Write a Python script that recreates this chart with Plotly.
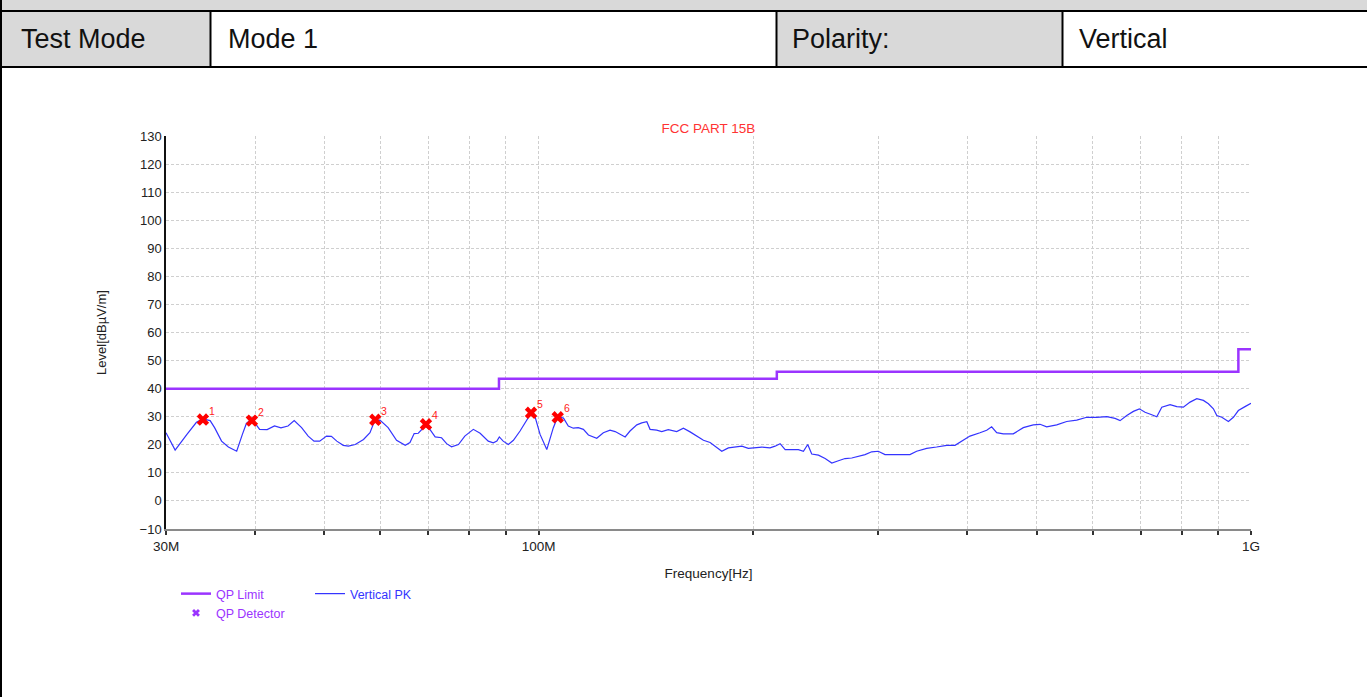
import math
import plotly.graph_objects as go

# ---------------- data ----------------
# Peak trace (Vertical PK), frequency in MHz, level in dBuV/m
pk_freq = [30.0, 30.9, 32.1, 33.1, 33.8, 34.6, 35.1, 35.9, 36.7, 37.7, 38.4, 38.9, 39.6,
           40.6, 41.6, 42.6, 43.5, 44.5, 45.4, 46.5, 47.5, 48.4, 49.3, 50.4, 51.2, 52.1,
           53.2, 54.1, 55.3, 56.8, 58.0, 58.9, 59.9, 61.5, 63.2, 65.0, 66.0, 66.9, 67.8,
           69.3, 70.4, 71.6, 73.1, 74.3, 75.5, 77.2, 78.8, 81.0, 82.8, 85.0, 86.4, 87.4,
           88.1, 89.2, 90.7, 92.2, 94.2, 95.7, 97.8, 98.7, 100.5, 102.7, 104.9, 106.4,
           108.4, 110.1, 111.9, 113.7, 115.6, 117.5, 120.7, 123.3, 126.0, 128.1, 130.1,
           132.3, 134.4, 137.4, 139.6, 141.9, 143.4, 146.5, 148.9, 152.1, 156.3, 159.7,
           163.2, 166.8, 170.4, 174.1, 177.9, 180.8, 184.7, 189.8, 192.9, 197.0, 201.3,
           205.8, 211.3, 214.8, 218.3, 221.9, 226.7, 231.6, 235.4, 238.7, 241.8, 247.1,
           252.5, 258.0, 263.6, 269.3, 275.2, 281.2, 287.3, 293.5, 299.8, 306.4, 313.1,
           321.6, 332.1, 339.4, 350.6, 362.0, 374.0, 384.2, 392.6, 403.2, 416.5, 425.6,
           432.5, 439.6, 449.1, 463.8, 479.1, 494.8, 505.7, 516.7, 533.7, 551.2, 569.4,
           588.1, 607.4, 627.4, 644.5, 655.0, 669.3, 683.8, 697.1, 710.1, 725.6, 737.5,
           749.5, 769.9, 786.8, 803.7, 821.3, 839.3, 857.4, 871.4, 885.6, 895.4, 910.0,
           929.6, 944.7, 959.9, 980.8, 1000.0]
pk_level = [24.3, 18.1, 23.7, 28.0, 29.2, 28.6, 26.1, 21.3, 19.2, 17.7, 23.7, 27.6, 29.2,
            25.5, 25.4, 26.7, 26.0, 26.7, 28.6, 26.1, 23.1, 21.3, 21.3, 23.1, 23.0, 21.3,
            19.8, 19.5, 20.1, 21.9, 24.3, 28.6, 28.8, 26.1, 21.6, 19.8, 20.8, 24.0, 24.1,
            26.7, 25.5, 22.8, 22.5, 20.4, 19.3, 20.1, 23.1, 25.5, 24.1, 21.3, 20.7, 21.3,
            22.8, 21.3, 20.1, 21.6, 24.9, 27.6, 31.6, 30.7, 23.7, 18.3, 26.1, 30.0,
            29.5, 26.7, 25.9, 26.1, 25.5, 23.5, 22.3, 24.3, 25.2, 24.7, 23.7,
            22.8, 24.9, 27.1, 27.8, 28.2, 25.5, 25.2, 24.7, 25.4, 24.7, 25.9,
            24.6, 23.1, 21.6, 20.8, 18.9, 17.7, 18.9, 19.2, 19.5, 18.7, 18.9,
            19.2, 18.9, 19.5, 20.4, 18.3, 18.3, 18.3, 17.7, 20.1, 16.7, 16.3,
            15.1, 13.5, 14.3, 15.1, 15.3, 15.9, 16.5, 17.5, 17.7, 16.5, 16.5,
            16.3, 16.5, 17.7, 18.7, 19.2, 19.8, 19.8, 21.3, 23.1, 24.3, 25.2,
            26.4, 24.3, 23.9, 23.9, 26.1, 27.1, 27.3, 26.4, 27.1, 28.3, 28.8,
            29.8, 29.8, 30.0, 29.4, 28.6, 30.4, 31.9, 32.8, 31.6, 30.7, 30.0,
            33.4, 34.3, 33.6, 33.4, 35.2, 36.4, 35.8, 34.6, 32.8, 30.4, 29.8,
            28.3, 29.8, 32.2, 33.6, 34.8]

# FCC Part 15B QP limit (step function)
limit_freq = [30.0, 88.0, 216.0, 960.0, 1000.0]
limit_level = [40.0, 43.5, 46.0, 54.0, 54.0]

# QP detector readings
qp_freq = [33.8, 39.6, 59.0, 69.5, 97.6, 106.4]
qp_level = [29.0, 28.6, 28.9, 27.3, 31.4, 29.8]
qp_labels = ["1", "2", "3", "4", "5", "6"]

# axis ticks
x_tickvals = [30, 40, 50, 60, 70, 80, 90, 100, 200, 300, 400, 500, 600, 700, 800, 900, 1000]
x_ticktext = ["30M", "", "", "", "", "", "", "100M", "", "", "", "", "", "", "", "", "1G"]
y_tickvals = list(range(-10, 140, 10))

# header table
header_labels = ["Test Mode", "Mode 1", "Polarity:", "Vertical"]

# ---------------- layout geometry ----------------
W, H = 1367, 697
L, R, T, B = 166, 1251, 136, 529


def px2x(px):
    return (px - L) / (R - L)


def px2y(py):
    return (B - py) / (B - T)


FONT = "Liberation Sans, Arial, sans-serif"
PURPLE = "#9b34ff"
BLUE = "#3434ff"
RED = "#ff1a1a"

fig = go.Figure()

fig.add_trace(go.Scatter(
    x=limit_freq, y=limit_level, mode="lines", line_shape="hv",
    line=dict(color=PURPLE, width=2.5), name="QP Limit", legend="legend"))

fig.add_trace(go.Scatter(
    x=pk_freq, y=pk_level, mode="lines",
    line=dict(color=BLUE, width=1.2), name="Vertical PK", legend="legend2"))

fig.add_trace(go.Scatter(
    x=qp_freq, y=qp_level, mode="markers",
    marker=dict(symbol="x", size=11, color="#ff0000", line=dict(width=0)),
    name="QP Detector", showlegend=False))

# legend-only entry for the QP detector (purple symbol in legend)
fig.add_trace(go.Scatter(
    x=[None], y=[None], mode="markers",
    marker=dict(symbol="x", size=7, color=PURPLE, line=dict(width=0)),
    name="QP Detector", legend="legend"))

shapes = []
annotations = []
# marker number labels
for f, lv, lab in zip(qp_freq, qp_level, qp_labels):
    annotations.append(dict(text=lab, x=math.log10(f), y=lv, xref="x", yref="y",
                            xanchor="left", yanchor="bottom", xshift=4, yshift=1,
                            showarrow=False, font=dict(family=FONT, size=10.5, color=RED)))

# header grey strip and cells
shapes.append(dict(type="rect", xref="paper", yref="paper",
                   x0=px2x(0), x1=px2x(W), y0=px2y(11), y1=px2y(0),
                   fillcolor="#d9d9d9", line=dict(width=0), layer="below"))
for x0, x1 in [(0, 210), (777, 1062)]:
    shapes.append(dict(type="rect", xref="paper", yref="paper",
                       x0=px2x(x0), x1=px2x(x1), y0=px2y(67), y1=px2y(11),
                       fillcolor="#d9d9d9", line=dict(width=0), layer="below"))
# header lines
for yy in [11, 67]:
    shapes.append(dict(type="line", xref="paper", yref="paper",
                       x0=px2x(0), x1=px2x(W), y0=px2y(yy), y1=px2y(yy),
                       line=dict(color="#000000", width=2)))
for xx in [210.5, 776.5, 1062.5]:
    shapes.append(dict(type="line", xref="paper", yref="paper",
                       x0=px2x(xx), x1=px2x(xx), y0=px2y(11), y1=px2y(67),
                       line=dict(color="#000000", width=2)))
shapes.append(dict(type="line", xref="paper", yref="paper",
                   x0=px2x(1), x1=px2x(1), y0=px2y(0), y1=px2y(H),
                   line=dict(color="#000000", width=2)))

for label, xx in zip(header_labels, [19, 226, 790, 1077]):
    annotations.append(dict(text=label, xref="paper", yref="paper",
                            x=px2x(xx), y=px2y(39), xanchor="left", yanchor="middle",
                            showarrow=False, font=dict(family=FONT, size=27, color="#111111")))

fig.update_layout(
    width=W, height=H,
    margin=dict(l=L, r=W - R, t=T, b=H - B, autoexpand=False),
    paper_bgcolor="white", plot_bgcolor="white",
    font=dict(family=FONT, size=13, color="#222222"),
    title=dict(text="FCC PART 15B", x=708.5 / W, xanchor="center", xref="container",
               y=1 - 128 / H, yanchor="middle", yref="container",
               font=dict(family=FONT, size=13.5, color="#ff3333")),
    shapes=shapes, annotations=annotations,
    legend=dict(x=px2x(176), y=px2y(579), xanchor="left", yanchor="top",
                orientation="v", bgcolor="rgba(0,0,0,0)", tracegroupgap=0,
                font=dict(family=FONT, size=12.5, color=PURPLE), itemwidth=30),
    legend2=dict(x=px2x(310), y=px2y(579), xanchor="left", yanchor="top",
                 orientation="v", bgcolor="rgba(0,0,0,0)",
                 font=dict(family=FONT, size=12.5, color=BLUE), itemwidth=30),
    showlegend=True,
)

fig.update_xaxes(
    type="log", range=[1.4771212547, 3.0],
    tickmode="array", tickvals=x_tickvals, ticktext=x_ticktext,
    ticks="outside", ticklen=4, tickwidth=1.5, tickcolor="#333333",
    showgrid=True, gridcolor="#cfcfcf", gridwidth=1, griddash="3px,2px",
    showline=True, linecolor="#8a8a8a", linewidth=2,
    tickfont=dict(family=FONT, size=13.5, color="#222222"),
    title=dict(text="Frequency[Hz]", standoff=15, font=dict(family=FONT, size=13.5, color="#222222")),
    automargin=False, zeroline=False,
)
fig.update_yaxes(
    range=[-10, 130], tickmode="array", tickvals=y_tickvals,
    showgrid=True, gridcolor="#cfcfcf", gridwidth=1, griddash="3px,2px",
    showline=True, linecolor="#111111", linewidth=1.5, ticks="",
    tickfont=dict(family=FONT, size=13, color="#222222"),
    title=dict(text="Level[dBµV/m]", standoff=30, font=dict(family=FONT, size=13, color="#222222")),
    automargin=False, zeroline=False,
)

fig.write_html("out.html", config={"displayModeBar": False},
               post_script="document.body.style.margin='0px';document.body.style.overflow='hidden';")
